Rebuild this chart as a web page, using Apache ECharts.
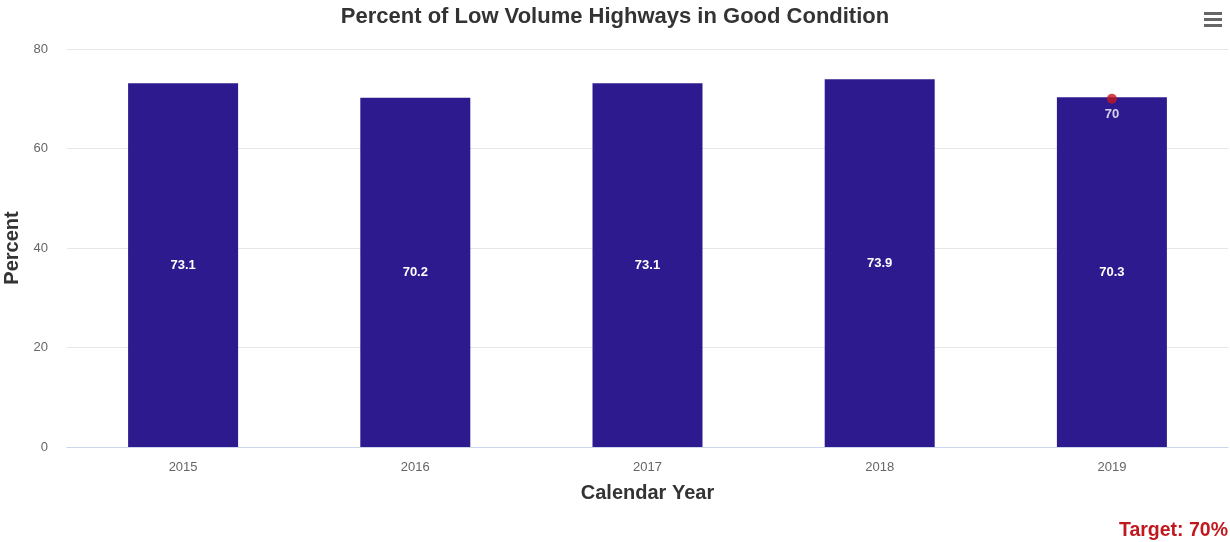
<!DOCTYPE html>
<html><head><meta charset="utf-8">
<script src="https://cdn.jsdelivr.net/npm/echarts@6/dist/echarts.min.js"></script>
<style>html,body{margin:0;padding:0;background:#fff}#c{width:1230px;height:542px}</style>
</head><body><div id="c"></div>
<script>
const categories = ['2015','2016','2017','2018','2019'];
const percentGood = [73.1, 70.2, 73.1, 73.9, 70.3];
const targetValues = [null, null, null, null, 70];
const yTicks = [0, 20, 40, 60, 80];

const chart = echarts.init(document.getElementById('c'), null, {renderer:'canvas'});
const font = 'Arial, "Liberation Sans", sans-serif';
chart.setOption({
  animation:false,
  backgroundColor:'#ffffff',
  title:{text:'Percent of Low Volume Highways in Good Condition', left:'center', top:1,
    textStyle:{fontFamily:font, fontSize:22, fontWeight:'bold', color:'#333333'}},
  grid:{left:67, right:2, top:49, bottom:95, outerBoundsMode:'none', containLabel:false},
  xAxis:{type:'category', data:categories,
    name:'Calendar Year', nameLocation:'middle', nameGap:36,
    nameTextStyle:{fontFamily:font, fontSize:20, fontWeight:'bold', color:'#333333'},
    axisLine:{lineStyle:{color:'#ccd6eb'}}, axisTick:{show:false},
    axisLabel:{fontFamily:font, fontSize:13, color:'#666666', margin:14}},
  yAxis:{type:'value', min:yTicks[0], max:yTicks[yTicks.length-1], interval:20,
    name:'Percent', nameLocation:'middle', nameGap:43,
    nameTextStyle:{fontFamily:font, fontSize:20, fontWeight:'bold', color:'#333333'},
    axisLine:{show:false}, axisTick:{show:false},
    axisLabel:{fontFamily:font, fontSize:13, color:'#666666', margin:19},
    splitLine:{lineStyle:{color:'#e6e6e6'}}},
  series:[
    {type:'bar', data:percentGood, barWidth:110,
      itemStyle:{color:'#2e1a8f'},
      label:{show:true, position:'inside', color:'#ffffff', fontFamily:font, fontSize:13, fontWeight:'bold'}},
    {type:'scatter', data:targetValues, symbol:'circle', symbolSize:10, z:5,
      itemStyle:{color:'#c0181f'},
      label:{show:true, position:'bottom', distance:4, color:'#ffffff', fontFamily:font, fontSize:13, fontWeight:'bold'}}
  ],
  graphic:[
    {type:'text', right:2, top:521, style:{text:'Target: 70%', fill:'#c0181f', font:'bold 19.5px '+font}},
    {type:'rect', left:1204, top:12, shape:{width:18, height:3}, style:{fill:'#666666'}},
    {type:'rect', left:1204, top:18, shape:{width:18, height:3}, style:{fill:'#666666'}},
    {type:'rect', left:1204, top:24, shape:{width:18, height:3}, style:{fill:'#666666'}}
  ]
});
</script></body></html>
